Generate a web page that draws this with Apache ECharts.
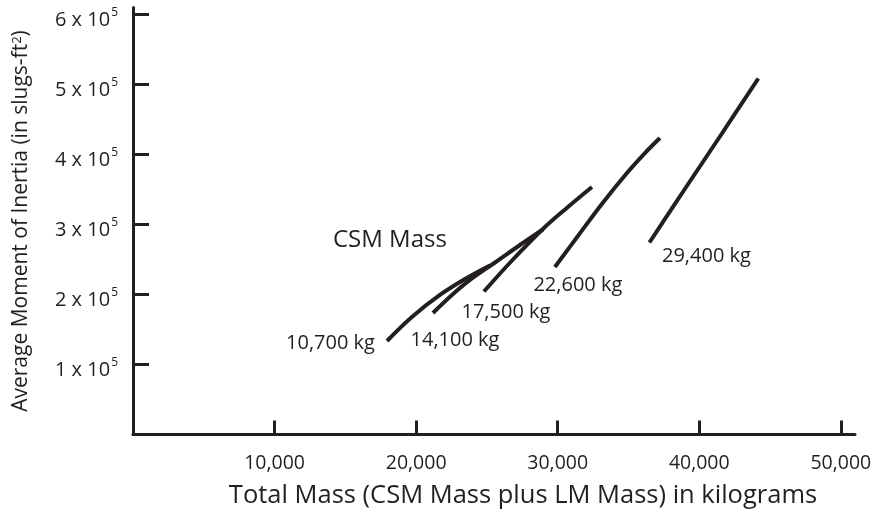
<!DOCTYPE html>
<html>
<head>
<meta charset="utf-8">
<script src="https://cdn.jsdelivr.net/npm/echarts@6/dist/echarts.min.js"></script>
<style>
  html, body { margin: 0; padding: 0; background: #ffffff; }
  #chart { width: 879px; height: 509px; }
</style>
</head>
<body>
<div id="chart"></div>
<script>
// CSM mass for each curve
const csmMasses = ['10,700 kg', '14,100 kg', '17,500 kg', '22,600 kg', '29,400 kg'];

// [total mass (kg), average moment of inertia (slugs-ft^2)]
const curve10700 = [[17940, 133600], [19700, 167900], [21680, 199300], [23450, 222100], [25210, 241400]];
const curve14100 = [[21190, 173600], [22530, 199300], [23940, 222900], [25570, 245700], [27330, 270700], [28950, 292900]];
const curve17500 = [[24790, 204300], [26840, 250000], [29100, 296400], [30720, 325000], [32420, 353600]];
const curve22600 = [[29800, 239300], [31430, 283600], [33120, 329300], [34890, 373600], [36160, 402100], [37220, 423600]];
const curve29400 = [[36480, 274300], [38980, 350700], [41600, 430000], [44170, 508600]];

// axis ticks
const xTicks = [10000, 20000, 30000, 40000, 50000];
const yTicks = [100000, 200000, 300000, 400000, 500000, 600000];

const curves = [curve10700, curve14100, curve17500, curve22600, curve29400];

const FONT = 'Open Sans';
const INK = '#231f20';

// label placement (px) relative to the start of each curve
const labelPlacement = [
  { position: 'left', distance: 12, offset: [0, 2] },
  { position: 'inside', offset: [22, 27] },
  { position: 'inside', offset: [22, 21] },
  { position: 'inside', offset: [23, 18] },
  { position: 'inside', offset: [57, 14] }
];

const lineSeries = curves.map((pts, i) => ({
  type: 'line',
  name: csmMasses[i],
  data: pts,
  smooth: 0.35,
  showSymbol: false,
  symbol: 'none',
  silent: true,
  lineStyle: { color: INK, width: 4, cap: 'butt' },
  z: 3
}));

const labelSeries = {
  type: 'scatter',
  silent: true,
  symbolSize: 0,
  itemStyle: { opacity: 1 },
  data: curves.map((pts, i) => ({
    value: pts[0],
    label: Object.assign({
      show: true,
      formatter: csmMasses[i],
      color: INK,
      opacity: 1,
      fontFamily: FONT,
      fontSize: 20
    }, labelPlacement[i])
  })),
  z: 4
};

const chart = echarts.init(document.getElementById('chart'), null, { renderer: 'canvas' });

chart.setOption({
  animation: false,
  backgroundColor: '#ffffff',
  grid: { left: 133, right: 24, top: 7.5, bottom: 74.5, containLabel: false, outerBoundsMode: 'none' },
  xAxis: {
    type: 'value',
    min: 0,
    max: 51000,
    interval: 10000,
    name: 'Total Mass (CSM Mass plus LM Mass) in kilograms',
    nameLocation: 'middle',
    nameGap: 48,
    nameTextStyle: { color: INK, fontFamily: FONT, fontSize: 25.5, padding: [0, 0, 0, 58] },
    axisLine: { lineStyle: { color: INK, width: 3 } },
    axisTick: { show: true, inside: true, length: 14, customValues: xTicks, lineStyle: { color: INK, width: 3 } },
    axisLabel: {
      customValues: xTicks,
      margin: 19,
      color: INK,
      fontFamily: FONT,
      fontSize: 19.5,
      formatter: v => v.toLocaleString('en-US')
    },
    splitLine: { show: false }
  },
  yAxis: {
    type: 'value',
    min: 0,
    max: 610000,
    interval: 100000,
    name: 'Average Moment of Inertia (in slugs-ft{s|2})',
    nameLocation: 'middle',
    nameGap: 101,
    nameRotate: 90,
    nameTextStyle: {
      color: INK, fontFamily: FONT, fontSize: 21,
      rich: {
        s: { fontFamily: FONT, fontSize: 13, color: INK, verticalAlign: 'top', lineHeight: 13 }
      }
    },
    axisLine: { lineStyle: { color: INK, width: 3 } },
    axisTick: { show: true, inside: true, length: 16, customValues: yTicks, lineStyle: { color: INK, width: 3 } },
    axisLabel: {
      customValues: yTicks,
      margin: 15,
      padding: [8, 0, 0, 0],
      formatter: v => '{n|' + (v / 100000) + ' x 10}{e|5}',
      rich: {
        n: { fontFamily: FONT, fontSize: 20, color: INK, lineHeight: 24, verticalAlign: 'bottom', padding: [0, 1, 0, 0] },
        e: { fontFamily: FONT, fontSize: 12, color: INK, lineHeight: 14, verticalAlign: 'top' }
      }
    },
    splitLine: { show: false }
  },
  graphic: [
    {
      type: 'text',
      left: 333,
      top: 228,
      silent: true,
      style: { text: 'CSM Mass', fill: INK, font: '24px "Open Sans"' }
    }
  ],
  series: lineSeries.concat([labelSeries])
});
</script>
</body>
</html>
